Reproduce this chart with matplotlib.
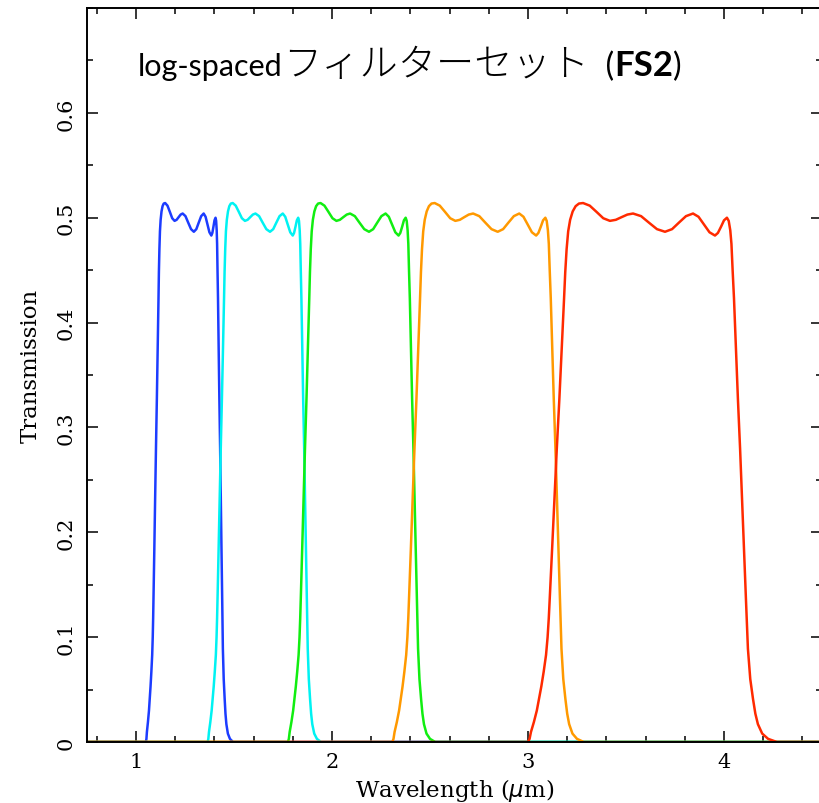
import matplotlib
matplotlib.use("Agg")
import matplotlib.pyplot as plt
from matplotlib.ticker import MultipleLocator
from matplotlib.transforms import IdentityTransform

# transmission profile, same shape for all five log-spaced filters
trans = [0.0, 0.0, 0.003, 0.0095, 0.019, 0.030, 0.041, 0.053, 0.067, 0.083,
         0.100, 0.118, 0.141, 0.184, 0.232, 0.280, 0.327, 0.375, 0.423, 0.448,
         0.470, 0.487, 0.498, 0.506, 0.511, 0.5135, 0.514, 0.5115, 0.5055, 0.4995,
         0.497, 0.498, 0.5005, 0.503, 0.504, 0.5015, 0.4953, 0.4891, 0.4866, 0.4891,
         0.4953, 0.5015, 0.504, 0.5009, 0.4935, 0.4861, 0.483, 0.4855, 0.4915, 0.4975,
         0.500, 0.497, 0.488, 0.475, 0.450, 0.423, 0.375, 0.327, 0.280, 0.232,
         0.184, 0.136, 0.089, 0.060, 0.041, 0.027, 0.017, 0.008, 0.003, 0.0,
         0.0]

# wavelengths (micron) of each filter curve
wl_blue = [0.75, 1.0504, 1.0532, 1.0556, 1.0609, 1.0662, 1.0700, 1.0742, 1.0784, 1.0826,
           1.0854, 1.0875, 1.0896, 1.0935, 1.0976, 1.1019, 1.1064, 1.1106, 1.1148, 1.1168,
           1.1194, 1.1222, 1.1257, 1.1302, 1.1355, 1.1414, 1.1488, 1.1606, 1.1729, 1.1848,
           1.1968, 1.2072, 1.2174, 1.2279, 1.2381, 1.2524, 1.2664, 1.2808, 1.2952, 1.3078,
           1.3200, 1.3326, 1.3452, 1.3550, 1.3648, 1.3746, 1.3844, 1.3896, 1.3952, 1.4005,
           1.4058, 1.4089, 1.4117, 1.4138, 1.4159, 1.4184, 1.4218, 1.4253, 1.4292, 1.4327,
           1.4362, 1.4398, 1.4432, 1.4475, 1.4524, 1.4565, 1.4611, 1.4688, 1.4793, 1.4950,
           4.5]
wl_cyan = [0.75, 1.3655, 1.3691, 1.3723, 1.3792, 1.3860, 1.3910, 1.3965, 1.4019, 1.4074,
           1.4110, 1.4137, 1.4165, 1.4215, 1.4269, 1.4325, 1.4383, 1.4438, 1.4492, 1.4519,
           1.4552, 1.4588, 1.4634, 1.4693, 1.4761, 1.4838, 1.4934, 1.5088, 1.5248, 1.5403,
           1.5558, 1.5694, 1.5826, 1.5963, 1.6095, 1.6281, 1.6463, 1.6650, 1.6837, 1.7001,
           1.7160, 1.7324, 1.7488, 1.7615, 1.7742, 1.7870, 1.7997, 1.8065, 1.8138, 1.8207,
           1.8275, 1.8316, 1.8352, 1.8380, 1.8407, 1.8439, 1.8484, 1.8529, 1.8580, 1.8625,
           1.8671, 1.8717, 1.8762, 1.8817, 1.8881, 1.8935, 1.8994, 1.9094, 1.9231, 1.9435,
           4.5]
wl_green = [0.75, 1.7751, 1.7798, 1.7840, 1.7929, 1.8018, 1.8083, 1.8154, 1.8225, 1.8296,
            1.8343, 1.8378, 1.8414, 1.8479, 1.8550, 1.8622, 1.8698, 1.8769, 1.8840, 1.8875,
            1.8917, 1.8965, 1.9024, 1.9101, 1.9189, 1.9290, 1.9414, 1.9615, 1.9822, 2.0024,
            2.0225, 2.0402, 2.0574, 2.0752, 2.0923, 2.1165, 2.1402, 2.1645, 2.1888, 2.2101,
            2.2308, 2.2521, 2.2734, 2.2899, 2.3065, 2.3231, 2.3396, 2.3485, 2.3580, 2.3669,
            2.3758, 2.3811, 2.3858, 2.3894, 2.3929, 2.3971, 2.4029, 2.4088, 2.4154, 2.4213,
            2.4272, 2.4332, 2.4391, 2.4462, 2.4545, 2.4615, 2.4692, 2.4822, 2.5000, 2.5266,
            4.5]
wl_orange = [0.75, 2.3077, 2.3138, 2.3192, 2.3308, 2.3423, 2.3508, 2.3600, 2.3692, 2.3785,
             2.3846, 2.3892, 2.3938, 2.4023, 2.4115, 2.4208, 2.4308, 2.4400, 2.4492, 2.4538,
             2.4592, 2.4654, 2.4731, 2.4831, 2.4946, 2.5077, 2.5238, 2.5500, 2.5769, 2.6031,
             2.6292, 2.6523, 2.6746, 2.6977, 2.7200, 2.7515, 2.7823, 2.8138, 2.8454, 2.8731,
             2.9000, 2.9277, 2.9554, 2.9769, 2.9985, 3.0200, 3.0415, 3.0531, 3.0654, 3.0769,
             3.0885, 3.0954, 3.1015, 3.1062, 3.1108, 3.1162, 3.1238, 3.1315, 3.1400, 3.1477,
             3.1554, 3.1631, 3.1708, 3.1800, 3.1908, 3.2000, 3.2100, 3.2269, 3.2500, 3.2846,
             4.5]
wl_red = [0.75, 3.000, 3.008, 3.015, 3.030, 3.045, 3.056, 3.068, 3.080, 3.092,
          3.100, 3.106, 3.112, 3.123, 3.135, 3.147, 3.160, 3.172, 3.184, 3.190,
          3.197, 3.205, 3.215, 3.228, 3.243, 3.260, 3.281, 3.315, 3.350, 3.384,
          3.418, 3.448, 3.477, 3.507, 3.536, 3.577, 3.617, 3.658, 3.699, 3.735,
          3.770, 3.806, 3.842, 3.870, 3.898, 3.926, 3.954, 3.969, 3.985, 4.000,
          4.015, 4.024, 4.032, 4.038, 4.044, 4.051, 4.061, 4.071, 4.082, 4.092,
          4.102, 4.112, 4.122, 4.134, 4.148, 4.160, 4.173, 4.195, 4.225, 4.270,
          4.5]

curves = [(wl_blue, "#1c3cff"), (wl_cyan, "#00f2f2"), (wl_green, "#11ee11"),
          (wl_orange, "#ff9900"), (wl_red, "#ff2a00")]

serif = "DejaVu Serif"

fig = plt.figure(figsize=(8.2, 8.04), dpi=100)
ax = fig.add_axes([87 / 820, 61 / 804, 735 / 820, 734 / 804])

for wl, col in curves:
    ax.plot(wl, trans, color=col, lw=1.8, solid_joinstyle="round")

ax.set_xlim(0.75, 4.5)
ax.set_ylim(0, 0.7)
ax.xaxis.set_major_locator(MultipleLocator(1))
ax.xaxis.set_minor_locator(MultipleLocator(0.2))
ax.yaxis.set_minor_locator(MultipleLocator(0.05))
ax.set_yticks([0, 0.1, 0.2, 0.3, 0.4, 0.5, 0.6])
ax.set_yticklabels(["0", "0.1", "0.2", "0.3", "0.4", "0.5", "0.6"])
ax.tick_params(which="both", direction="in", top=True, right=True, width=1.1,
               labelsize=15, colors="black")
ax.tick_params(which="major", length=8)
ax.tick_params(which="minor", length=4.3)
ax.tick_params(axis="x", pad=7)
ax.tick_params(axis="y", pad=8, labelrotation=90)
for lab in ax.get_xticklabels() + ax.get_yticklabels():
    lab.set_family(serif)
for lab in ax.get_yticklabels():
    lab.set_va("center")
for sp in ax.spines.values():
    sp.set_linewidth(1.4)
    sp.set_zorder(5)

ax.set_xlabel(r"Wavelength ($\mu$m)", family=serif, fontsize=16.5, labelpad=4)
ax.set_ylabel("Transmission", family=serif, fontsize=16.5)
ax.yaxis.set_label_coords(-0.061, 0.514)

# title built from pieces so that FS2 can be bold
renderer = fig.canvas.get_renderer()
x0 = 138
y0 = 804 - 76
pieces = [("log-spaced", ["Lato"], "normal", 22),
          ("フィルターセット", ["Noto Sans CJK JP"], "light", 27.5),
          ("  (", ["Lato"], "normal", 23),
          ("FS2", ["Lato"], "bold", 25),
          (")", ["Lato"], "normal", 23)]
for s, fam, wt, fs in pieces:
    t = fig.text(x0, y0, s, transform=IdentityTransform(), family=fam,
                 fontweight=wt, fontsize=fs, va="baseline", ha="left")
    x0 = t.get_window_extent(renderer).x1

fig.savefig("out.png", dpi=100)
